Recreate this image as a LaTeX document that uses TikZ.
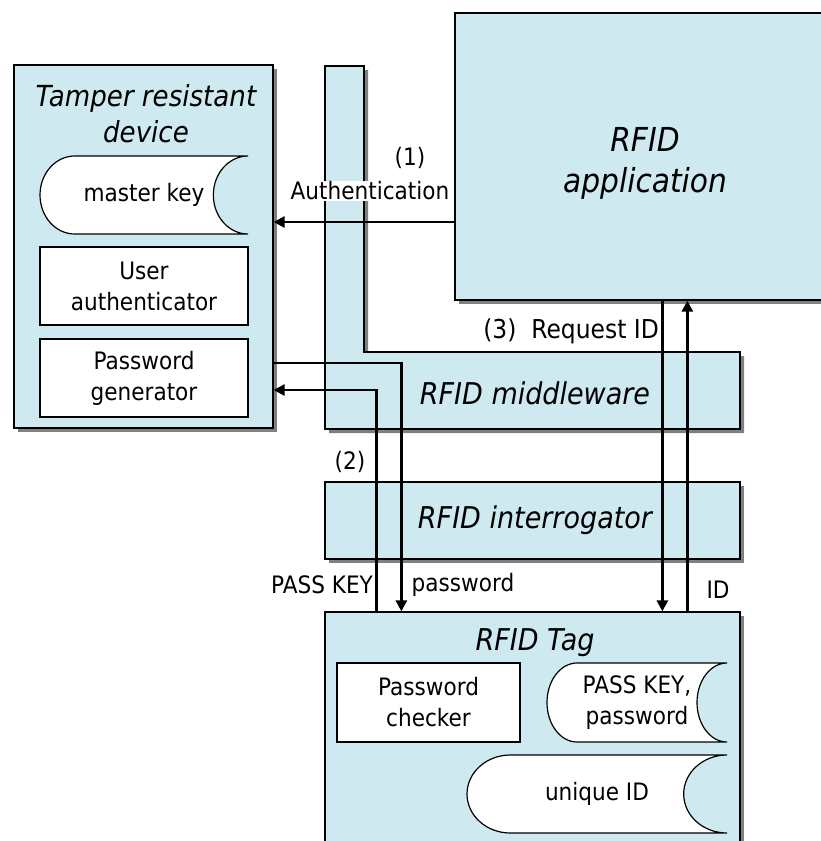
\documentclass[tikz,border=0pt]{standalone}
\usepackage{fontspec}
\setmainfont[FakeStretch=0.9]{DejaVu Sans}
\usetikzlibrary{arrows.meta,shadows}
\definecolor{panelblue}{RGB}{206,234,240}
\definecolor{shadowgray}{RGB}{128,128,128}
\newcommand\setfs[2]{\fontsize{#1bp}{#2bp}\selectfont}
% stored-data shape: convex left end, concave right end
% #1 name, #2 x0, #3 y0, #4 x1, #5 y1, #6 text
\newcommand\storeshape[6]{%
  \pgfmathsetmacro\sxr{(#4-#2)/6}%
  \pgfmathsetmacro\sym{(#3+#5)/2}%
  \pgfmathsetmacro\syr{(#5-#3)/2}%
  \pgfmathsetmacro\skx{0.5523*\sxr}%
  \pgfmathsetmacro\sky{0.5523*\syr}%
  \draw[storebox] (#2+\sxr,#3) -- (#4,#3)
    .. controls (#4-\skx,#3) and (#4-\sxr,\sym-\sky) .. (#4-\sxr,\sym)
    .. controls (#4-\sxr,\sym+\sky) and (#4-\skx,#5) .. (#4,#5)
    -- (#2+\sxr,#5)
    .. controls (#2+\sxr-\skx,#5) and (#2,\sym+\sky) .. (#2,\sym)
    .. controls (#2,\sym-\sky) and (#2+\sxr-\skx,#3) .. cycle;
  \node[lbl] (#1) at ({(#2+#4)/2},\sym) {#6};%
}
\begin{document}
\begin{tikzpicture}[x=1bp,y=-1bp,
  panel/.style={draw, line width=1.3bp, fill=panelblue, inner sep=0pt,
    drop shadow={shadow xshift=4bp, shadow yshift=-4bp, fill=shadowgray, opacity=1}},
  inbox/.style={draw, line width=1.2bp, fill=white, inner sep=0pt,
    minimum width=208bp, minimum height=78bp, align=center, font=\setfs{24}{31}},
  storebox/.style={draw, line width=1.2bp, fill=white},
  lbl/.style={inner sep=1bp, align=center, font=\setfs{24}{31}},
  ttl/.style={inner sep=0pt, align=center, font=\setfs{30}{36}\itshape},
  arr/.style={line width=2.7bp, -{Triangle[length=11bp,width=11bp]}},
]
\useasboundingbox (0,0) rectangle (821,841);

% main blocks
\node[panel, minimum width=368bp, minimum height=287bp] (app) at (639,156.5) {};
\node[panel, minimum width=259bp, minimum height=363bp] (dev) at (143.5,246.5) {};

% L-shaped middleware block
\fill[shadowgray, shift={(4,4)}] (325,66) -- (364,66) -- (364,352) -- (740,352)
  -- (740,429) -- (325,429) -- cycle;
\draw[line width=1.3bp, fill=panelblue] (325,66) -- (364,66) -- (364,352) -- (740,352)
  -- (740,429) -- (325,429) -- cycle;

\node[panel, minimum width=415bp, minimum height=77bp] (intr) at (532.5,520.5) {};
\node[panel, minimum width=415bp, minimum height=250bp] (tag) at (532.5,737) {};

% titles
\node[ttl, font=\setfs{29}{36}\itshape] (devt) at (146,114) {Tamper resistant\\device};
\node[ttl, font=\setfs{33}{41}\itshape] (appt) at (645,163) {RFID\\application};
\node[ttl] (mwt) at (535,393) {RFID middleware};
\node[ttl] (intrt) at (535,520) {RFID interrogator};
\node[ttl] (tagt) at (535,643) {RFID Tag};

% components
\storeshape{mk}{40}{156}{248}{234}{master key}
\node[inbox] (ua) at (144,286) {User\\authenticator};
\node[inbox] (pg) at (144,378) {Password\\generator};
\node[inbox, minimum width=183bp, minimum height=79bp] (pc) at (428.5,702.5) {Password\\checker};
\storeshape{pk}{547}{663}{727}{742}{PASS KEY,\\password}
\storeshape{uid}{467}{755}{727}{833}{unique ID}

% labels
\node[lbl, fill=white] (authl) at (370,191) {Authentication};
\node[lbl] (l1) at (410,158) {(1)};
\node[lbl, anchor=east, font=\setfs{26}{31}] (l3) at (660,331) {(3)\ \ Request ID};
\node[lbl] (l2) at (350,462) {(2)};
\node[lbl] (pkl) at (322,585) {PASS KEY};
\node[lbl] (pwl) at (463,585) {password};
\node[lbl] (idl) at (718,590) {ID};

% connector anchor points
\coordinate (auth) at ([yshift=-65.5bp]app.west);
\coordinate (pwout) at ([yshift=15bp]pg.east);
\coordinate (pwin) at ([yshift=-12bp]pg.east);
\coordinate (pwdown) at ([xshift=77bp]tag.north west);
\coordinate (pkup) at ([xshift=52bp]tag.north west);
\coordinate (req) at ([xshift=208bp]app.south west);
\coordinate (idup) at ([xshift=233bp]app.south west);

% connectors
\draw[arr] (auth) -- (auth -| dev.east);
\draw[arr] (pwout -| dev.east) -| (pwdown);
\draw[arr] (pkup) |- (pwin -| dev.east);
\draw[arr] (req) -- (req |- tag.north);
\draw[arr] (idup |- tag.north) -- (idup);
\end{tikzpicture}
\end{document}
